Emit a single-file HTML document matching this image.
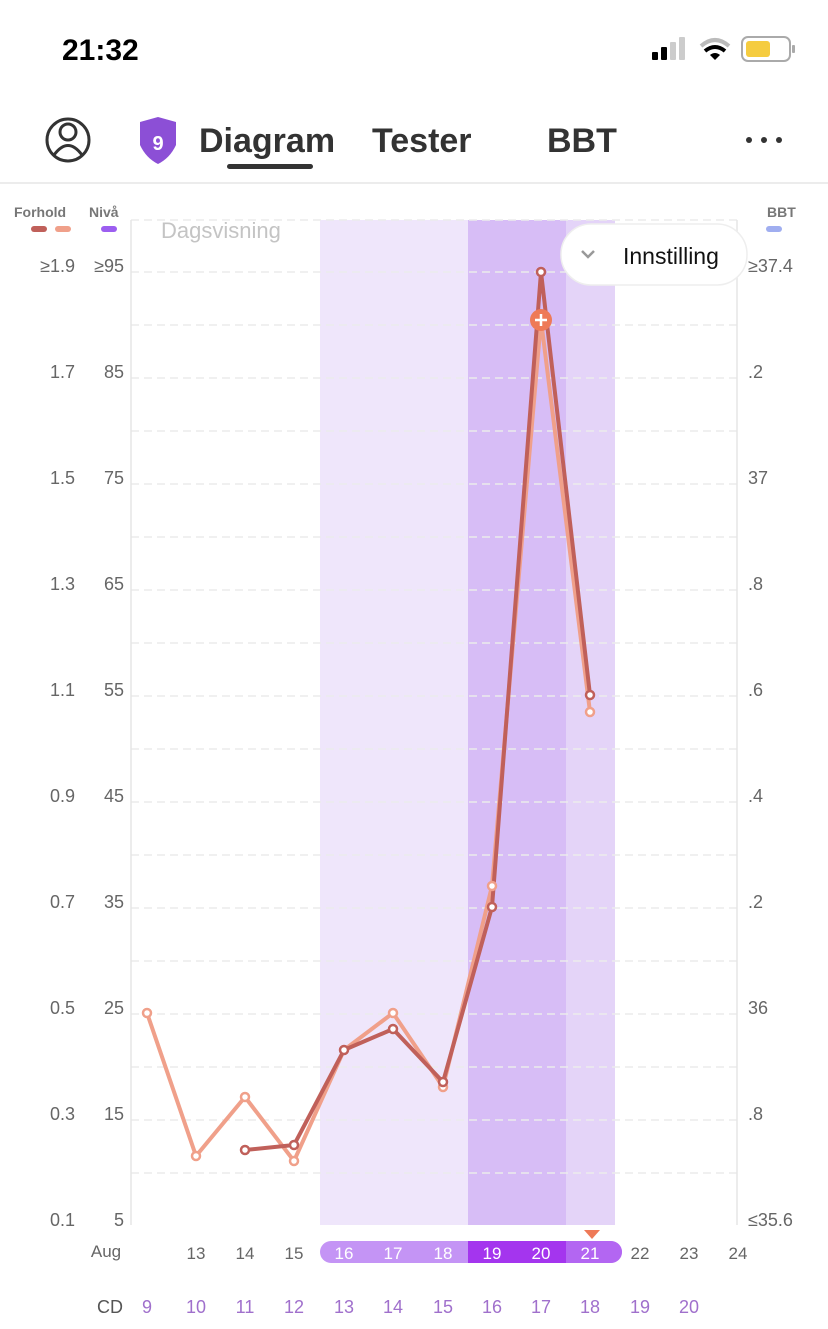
<!DOCTYPE html>
<html><head><meta charset="utf-8"><style>
html,body{margin:0;padding:0;background:#fff;width:828px;height:1329px;overflow:hidden}
svg{display:block;font-family:"Liberation Sans",sans-serif}
</style></head><body>
<svg width="828" height="1329" viewBox="0 0 828 1329" xmlns="http://www.w3.org/2000/svg">
<text x="62" y="60" font-size="30" font-weight="bold" fill="#000">21:32</text>
<rect x="652" y="52" width="6" height="8" rx="1" fill="#000"/>
<rect x="661" y="47" width="6" height="13" rx="1" fill="#000"/>
<rect x="670" y="42" width="6" height="18" rx="1" fill="#ccc"/>
<rect x="679" y="37" width="6" height="23" rx="1" fill="#ccc"/>
<path d="M701 46 Q715 34 729 46" stroke="#bbb" stroke-width="4" fill="none"/>
<path d="M705 51 Q715 43 725 51" stroke="#000" stroke-width="4" fill="none"/>
<path d="M710 55 L715 60 L720 55 Q715 51 710 55Z" fill="#000"/>
<rect x="742" y="37" width="48" height="24" rx="6" fill="#fff" stroke="#aaa" stroke-width="2"/>
<rect x="746" y="41" width="24" height="16" rx="3" fill="#f5cc40"/>
<rect x="792" y="45" width="3" height="8" rx="1" fill="#aaa"/>
<circle cx="68" cy="140" r="21" fill="none" stroke="#333" stroke-width="3"/>
<circle cx="68" cy="132" r="8" fill="none" stroke="#333" stroke-width="3"/>
<path d="M54 155 Q68 136 82 155" fill="none" stroke="#333" stroke-width="3"/>
<path d="M140 122 L158 117 L176 122 L176 145 Q170 158 158 164 Q146 158 140 145Z" fill="#8c4fd6"/>
<text x="158" y="150" font-size="20" font-weight="bold" fill="#fff" text-anchor="middle">9</text>
<text x="199" y="152" font-size="34" font-weight="bold" fill="#333">Diagram</text>
<rect x="227" y="164" width="86" height="5" rx="2.5" fill="#333"/>
<text x="372" y="152" font-size="34" font-weight="bold" fill="#333">Tester</text>
<text x="547" y="152" font-size="34" font-weight="bold" fill="#333">BBT</text>
<circle cx="749" cy="140" r="3" fill="#333"/><circle cx="764" cy="140" r="3" fill="#333"/><circle cx="779" cy="140" r="3" fill="#333"/>
<rect x="0" y="182" width="828" height="2" fill="#ececec"/>
<text x="14" y="217" font-size="14" font-weight="bold" fill="#777">Forhold</text>
<text x="89" y="217" font-size="14" font-weight="bold" fill="#777">Nivå</text>
<rect x="31" y="226" width="16" height="6" rx="3" fill="#c0605a"/>
<rect x="55" y="226" width="16" height="6" rx="3" fill="#f0a08a"/>
<rect x="101" y="226" width="16" height="6" rx="3" fill="#9c5ef0"/>
<text x="767" y="217" font-size="14" font-weight="bold" fill="#777">BBT</text>
<rect x="766" y="226" width="16" height="6" rx="3" fill="#a0aef0"/>
<rect x="320" y="220" width="148" height="1005" fill="#efe6fb"/>
<rect x="468" y="220" width="98" height="1005" fill="#d7bdf6"/>
<rect x="566" y="220" width="49" height="1005" fill="#e4d4f8"/>
<g stroke="#ececec" stroke-width="1.5" stroke-dasharray="8 5">
<line x1="131" y1="220" x2="737" y2="220"/>
<line x1="131" y1="272" x2="737" y2="272"/><line x1="131" y1="325" x2="737" y2="325"/>
<line x1="131" y1="378" x2="737" y2="378"/><line x1="131" y1="431" x2="737" y2="431"/>
<line x1="131" y1="484" x2="737" y2="484"/><line x1="131" y1="537" x2="737" y2="537"/>
<line x1="131" y1="590" x2="737" y2="590"/><line x1="131" y1="643" x2="737" y2="643"/>
<line x1="131" y1="696" x2="737" y2="696"/><line x1="131" y1="749" x2="737" y2="749"/>
<line x1="131" y1="802" x2="737" y2="802"/><line x1="131" y1="855" x2="737" y2="855"/>
<line x1="131" y1="908" x2="737" y2="908"/><line x1="131" y1="961" x2="737" y2="961"/>
<line x1="131" y1="1014" x2="737" y2="1014"/><line x1="131" y1="1067" x2="737" y2="1067"/>
<line x1="131" y1="1120" x2="737" y2="1120"/><line x1="131" y1="1173" x2="737" y2="1173"/>
</g>
<line x1="131" y1="220" x2="131" y2="1225" stroke="#e6e6e6" stroke-width="1.5"/>
<line x1="737" y1="220" x2="737" y2="1225" stroke="#e6e6e6" stroke-width="1.5"/>
<text x="161" y="238" font-size="22" fill="#c4c4c4">Dagsvisning</text>
<g font-size="18" fill="#666" text-anchor="end">
<text x="75" y="272">≥1.9</text><text x="124" y="272">≥95</text>
<text x="75" y="378">1.7</text><text x="124" y="378">85</text>
<text x="75" y="484">1.5</text><text x="124" y="484">75</text>
<text x="75" y="590">1.3</text><text x="124" y="590">65</text>
<text x="75" y="696">1.1</text><text x="124" y="696">55</text>
<text x="75" y="802">0.9</text><text x="124" y="802">45</text>
<text x="75" y="908">0.7</text><text x="124" y="908">35</text>
<text x="75" y="1014">0.5</text><text x="124" y="1014">25</text>
<text x="75" y="1120">0.3</text><text x="124" y="1120">15</text>
<text x="75" y="1226">0.1</text><text x="124" y="1226">5</text>
</g>
<g font-size="18" fill="#666">
<text x="748" y="272">≥37.4</text><text x="748" y="378">.2</text><text x="748" y="484">37</text>
<text x="748" y="590">.8</text><text x="748" y="696">.6</text><text x="748" y="802">.4</text>
<text x="748" y="908">.2</text><text x="748" y="1014">36</text><text x="748" y="1120">.8</text>
<text x="748" y="1226">≤35.6</text>
</g>
<polyline points="147,1013 196,1156 245,1097 294,1161 344,1050 393,1013 443,1087 492,886 541,320 590,712" fill="none" stroke="#f0a08a" stroke-width="4" stroke-linejoin="round"/>
<polyline points="245,1150 294,1145 344,1050 393,1029 443,1082 492,907 541,272 590,695" fill="none" stroke="#c0605a" stroke-width="4" stroke-linejoin="round"/>
<g fill="#fff" stroke="#f0a08a" stroke-width="2.5">
<circle cx="147" cy="1013" r="4"/><circle cx="196" cy="1156" r="4"/><circle cx="245" cy="1097" r="4"/><circle cx="294" cy="1161" r="4"/><circle cx="393" cy="1013" r="4"/><circle cx="443" cy="1087" r="4"/><circle cx="492" cy="886" r="4"/><circle cx="590" cy="712" r="4"/>
</g>
<g fill="#fff" stroke="#c0605a" stroke-width="2.5">
<circle cx="245" cy="1150" r="4"/><circle cx="294" cy="1145" r="4"/><circle cx="344" cy="1050" r="4"/><circle cx="393" cy="1029" r="4"/><circle cx="443" cy="1082" r="4"/><circle cx="492" cy="907" r="4"/><circle cx="541" cy="272" r="4"/><circle cx="590" cy="695" r="4"/>
</g>
<circle cx="541" cy="320" r="11" fill="#ee7a58"/>
<path d="M541 314 V326 M535 320 H547" stroke="#fff" stroke-width="2.5"/>
<rect x="561" y="224" width="186" height="61" rx="30" fill="#fff" stroke="#eee" stroke-width="1.5"/>
<path d="M582 251 L588 257 L594 251" fill="none" stroke="#999" stroke-width="2.5"/>
<text x="623" y="264" font-size="23" fill="#111">Innstilling</text>
<path d="M584 1230 L600 1230 L592 1239Z" fill="#ee7a58"/>
<rect x="320" y="1241" width="302" height="22" rx="11" fill="#c494f5"/>
<rect x="468" y="1241" width="98" height="22" fill="#a435ee"/>
<path d="M566 1241 H611 A11 11 0 0 1 611 1263 H566Z" fill="#b366f2"/>
<g font-size="17" text-anchor="middle" fill="#666">
<text x="106" y="1257">Aug</text>
<text x="196" y="1259">13</text><text x="245" y="1259">14</text><text x="294" y="1259">15</text>
<text x="640" y="1259">22</text><text x="689" y="1259">23</text><text x="738" y="1259">24</text>
</g>
<g font-size="17" text-anchor="middle" fill="#fff">
<text x="344" y="1259">16</text><text x="393" y="1259">17</text><text x="443" y="1259">18</text>
<text x="492" y="1259">19</text><text x="541" y="1259">20</text><text x="590" y="1259">21</text>
</g>
<text x="123" y="1313" font-size="18" fill="#555" text-anchor="end">CD</text>
<g font-size="18" text-anchor="middle" fill="#a070cc">
<text x="147" y="1313">9</text><text x="196" y="1313">10</text><text x="245" y="1313">11</text><text x="294" y="1313">12</text>
<text x="344" y="1313">13</text><text x="393" y="1313">14</text><text x="443" y="1313">15</text><text x="492" y="1313">16</text>
<text x="541" y="1313">17</text><text x="590" y="1313">18</text><text x="640" y="1313">19</text><text x="689" y="1313">20</text>
</g>
</svg>
</body></html>
